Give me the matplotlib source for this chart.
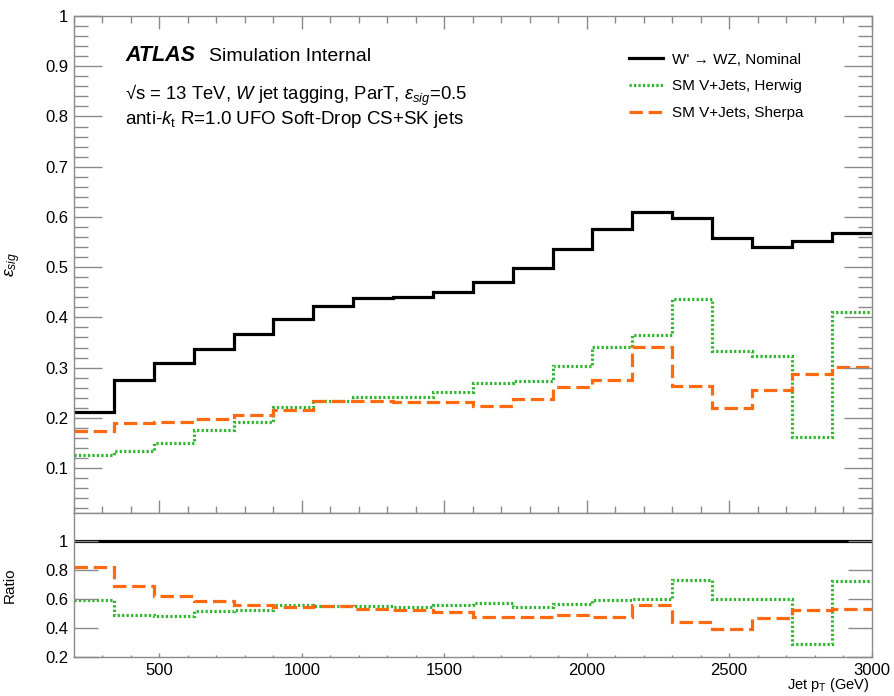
import numpy as np
import matplotlib
matplotlib.use('Agg')
import matplotlib.pyplot as plt
from matplotlib.ticker import MultipleLocator, FuncFormatter

plt.rcParams['font.family'] = ['Liberation Sans', 'DejaVu Sans']
plt.rcParams['mathtext.fontset'] = 'custom'
plt.rcParams['mathtext.rm'] = 'Liberation Sans'
plt.rcParams['mathtext.it'] = 'Liberation Sans:italic'
plt.rcParams['mathtext.bf'] = 'Liberation Sans:bold'

# ---------------- data ----------------
bin_edges = [200, 340, 480, 620, 760, 900, 1040, 1180, 1320, 1460, 1600,
             1740, 1880, 2020, 2160, 2300, 2440, 2580, 2720, 2860, 3000]
nominal = [0.212, 0.276, 0.310, 0.337, 0.367, 0.397, 0.423, 0.439, 0.440, 0.450,
           0.470, 0.498, 0.537, 0.576, 0.609, 0.598, 0.559, 0.541, 0.553, 0.568]
herwig = [0.126, 0.135, 0.150, 0.175, 0.191, 0.221, 0.234, 0.241, 0.241, 0.251,
          0.270, 0.2725, 0.304, 0.342, 0.365, 0.437, 0.334, 0.324, 0.161, 0.411]
sherpa = [0.174, 0.190, 0.192, 0.198, 0.206, 0.216, 0.233, 0.233, 0.231, 0.231,
          0.224, 0.237, 0.261, 0.275, 0.342, 0.263, 0.219, 0.255, 0.288, 0.302]
labels = ["W' \u2192 WZ, Nominal", "SM V+Jets, Herwig", "SM V+Jets, Sherpa"]

edges = np.array(bin_edges, dtype=float)
nom = np.array(nominal)
hw = np.array(herwig)
sh = np.array(sherpa)

c_black = 'black'
c_green = '#2fb52f'
c_orange = '#ff6a10'
ls_green = (0, (0.7, 0.7))
ls_orange = (0, (4.2, 1.8))
lw = 2.3

W, H = 894, 696
fig = plt.figure(figsize=(W / 100, H / 100), dpi=100)
xl, xr = 74, 871.5
yt, ym, yb = 16, 513.3, 657
ax1 = fig.add_axes([xl / W, 1 - ym / H, (xr - xl) / W, (ym - yt) / H])
ax2 = fig.add_axes([xl / W, 1 - yb / H, (xr - xl) / W, (yb - ym) / H])

ax1.stairs(nom, edges, color=c_black, lw=lw, label=labels[0], baseline=None)
ax1.stairs(hw, edges, color=c_green, lw=lw, ls=ls_green, label=labels[1], baseline=None)
ax1.stairs(sh, edges, color=c_orange, lw=lw, ls=ls_orange, label=labels[2], baseline=None)

ax2.stairs(nom / nom, edges, color=c_black, lw=lw, baseline=None)
ax2.stairs(hw / nom, edges, color=c_green, lw=lw, ls=ls_green, baseline=None)
ax2.stairs(sh / nom, edges, color=c_orange, lw=lw, ls=ls_orange, baseline=None)

spine_c = '#8a8a8a'
fmt = FuncFormatter(lambda v, p: ('%g' % round(v, 3)))
for ax in (ax1, ax2):
    ax.set_xlim(200, 3000)
    for s in ax.spines.values():
        s.set_color(spine_c)
        s.set_linewidth(1.0)
    ax.xaxis.set_major_locator(MultipleLocator(500))
    ax.xaxis.set_minor_locator(MultipleLocator(100))
    ax.yaxis.set_major_formatter(fmt)

ax1.set_ylim(0.01, 1.0)
ax1.yaxis.set_major_locator(MultipleLocator(0.1))
ax1.yaxis.set_minor_locator(MultipleLocator(0.02))
ax1.tick_params(axis='both', which='both', direction='in', top=True, right=True,
                color=spine_c, width=1.0, labelsize=12)
ax1.tick_params(axis='x', which='major', length=9.5, labelbottom=False)
ax1.tick_params(axis='x', which='minor', length=4.8)
ax1.tick_params(axis='y', which='major', length=20, pad=4)
ax1.tick_params(axis='y', which='minor', length=10)
ax1.set_ylabel(r'$\varepsilon_{sig}$', fontsize=12.5, va='center')
ax1.yaxis.set_label_coords(-0.076, 0.5)

ax2.set_ylim(0.2, 1.19)
ax2.yaxis.set_major_locator(MultipleLocator(0.2))
ax2.yaxis.set_minor_locator(MultipleLocator(1.0))
ax2.tick_params(axis='both', which='both', direction='in', right=True,
                color=spine_c, width=1.0, labelsize=12)
ax2.tick_params(axis='x', which='major', length=3, pad=4)
ax2.tick_params(axis='x', which='minor', length=1.5)
ax2.tick_params(axis='y', which='major', length=17, pad=4)
ax2.tick_params(axis='y', which='minor', length=0)
ax2.set_ylabel('Ratio', fontsize=11, va='center')
ax2.yaxis.set_label_coords(-0.080, 0.5)
ax2.set_xlabel(r'Jet p$_{\mathrm{T}}$ (GeV)', fontsize=10.5, ha='right', va='center')
ax2.xaxis.set_label_coords(0.998, -0.195)

def fx(x):
    return x / W

def fy(y):
    return 1 - y / H

fig.text(fx(125), fy(60.7), 'ATLAS', fontsize=15.5, weight='bold', style='italic', va='baseline')
fig.text(fx(209), fy(60.7), 'Simulation Internal', fontsize=14, va='baseline')
fig.text(fx(125), fy(100), '\u221as = 13 TeV, $W$ jet tagging, ParT, $\\varepsilon_{sig}$=0.5',
         fontsize=13.3, va='baseline')
fig.text(fx(125), fy(124), r'anti-$k_{\mathrm{t}}$ R=1.0 UFO Soft-Drop CS+SK jets',
         fontsize=13.5, va='baseline')

leg = ax1.legend(loc='upper left', bbox_to_anchor=(fx(629), fy(52.5)), bbox_transform=fig.transFigure,
                 frameon=False, fontsize=11, handlelength=2.2, handletextpad=0.6,
                 labelspacing=0.85, borderpad=0, borderaxespad=0)

fig.savefig('out.png', dpi=100)
